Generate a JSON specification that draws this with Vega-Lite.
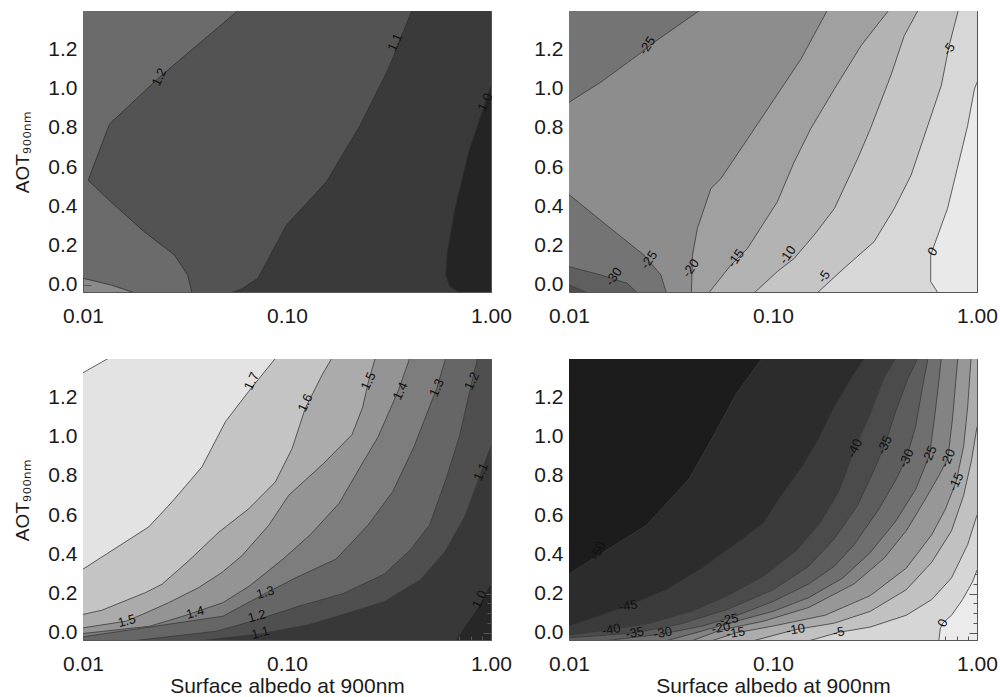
{
"$schema": "https://vega.github.io/schema/vega-lite/v6.json",
"padding": {"left": 13, "top": 10, "right": 5, "bottom": 0},
"background": "white",
"config": {
  "font": "Liberation Sans",
  "axis": {"grid": false, "domain": false, "zindex": 1, "labelFont": "Liberation Sans", "labelFontSize": 21, "labelColor": "#1a1a1a", "titleFont": "Liberation Sans", "titleFontWeight": "normal", "titleColor": "#1a1a1a", "tickColor": "#555555", "tickWidth": 1, "domainColor": "#555555"}
},
"datasets": {
"tl": [
{"v":1.3,"s":"m","x":0.0179,"y":-0.04},{"v":1.3,"s":"m","x":0.0137,"y":0.0},{"v":1.3,"s":"m","x":0.01,"y":0.034},{"v":1.3,"s":"","x":0.01,"y":1.4},
{"v":1.2,"s":"m","x":0.0342,"y":-0.04},{"v":1.2,"s":"m","x":0.0326,"y":0.05},{"v":1.2,"s":"m","x":0.0281,"y":0.152},{"v":1.2,"s":"m","x":0.02,"y":0.27},{"v":1.2,"s":"m","x":0.0137,"y":0.423},{"v":1.2,"s":"m","x":0.0106,"y":0.533},{"v":1.2,"s":"m","x":0.0135,"y":0.82},{"v":1.2,"s":"m","x":0.0237,"y":1.058},{"v":1.2,"s":"m","x":0.058,"y":1.4},
{"v":1.1,"s":"m","x":0.0534,"y":-0.04},{"v":1.1,"s":"m","x":0.06,"y":-0.02},{"v":1.1,"s":"m","x":0.072,"y":0.034},{"v":1.1,"s":"m","x":0.0994,"y":0.305},{"v":1.1,"s":"m","x":0.156,"y":0.525},{"v":1.1,"s":"m","x":0.228,"y":0.812},{"v":1.1,"s":"m","x":0.314,"y":1.1},{"v":1.1,"s":"m","x":0.41,"y":1.4},
{"v":1,"s":"m","x":0.71,"y":-0.04},{"v":1,"s":"m","x":0.63,"y":-0.01},{"v":1,"s":"m","x":0.6,"y":0.05},{"v":1,"s":"m","x":0.608,"y":0.152},{"v":1,"s":"m","x":0.666,"y":0.389},{"v":1,"s":"m","x":0.777,"y":0.677},{"v":1,"s":"m","x":0.904,"y":0.88},{"v":1,"s":"m","x":1.0,"y":1.015}
],
"tr": [
{"v":-35,"s":"m","x":0.0123,"y":-0.04},{"v":-35,"s":"m","x":0.01,"y":0.0},{"v":-35,"s":"","x":0.01,"y":1.4},
{"v":-30,"s":"m","x":0.0216,"y":-0.04},{"v":-30,"s":"m","x":0.0193,"y":0.008},{"v":-30,"s":"m","x":0.0143,"y":0.051},{"v":-30,"s":"m","x":0.01,"y":0.093},{"v":-30,"s":"","x":0.01,"y":1.4},
{"v":-25,"s":"m","x":0.03,"y":-0.04},{"v":-25,"s":"m","x":0.0282,"y":0.051},{"v":-25,"s":"m","x":0.0233,"y":0.152},{"v":-25,"s":"m","x":0.016,"y":0.288},{"v":-25,"s":"m","x":0.01,"y":0.46},{"v":-25,"s":"n","x":0.01,"y":0.93},{"v":-25,"s":"n","x":0.0143,"y":1.032},{"v":-25,"s":"n","x":0.0216,"y":1.168},{"v":-25,"s":"n","x":0.0261,"y":1.235},{"v":-25,"s":"n","x":0.044,"y":1.4},
{"v":-20,"s":"m","x":0.0398,"y":-0.04},{"v":-20,"s":"m","x":0.0403,"y":0.152},{"v":-20,"s":"m","x":0.0426,"y":0.288},{"v":-20,"s":"m","x":0.0496,"y":0.491},{"v":-20,"s":"m","x":0.0555,"y":0.541},{"v":-20,"s":"m","x":0.081,"y":0.795},{"v":-20,"s":"m","x":0.137,"y":1.15},{"v":-20,"s":"m","x":0.185,"y":1.4},
{"v":-15,"s":"m","x":0.0485,"y":-0.04},{"v":-15,"s":"m","x":0.062,"y":0.1},{"v":-15,"s":"m","x":0.075,"y":0.186},{"v":-15,"s":"m","x":0.105,"y":0.423},{"v":-15,"s":"m","x":0.127,"y":0.626},{"v":-15,"s":"m","x":0.153,"y":0.795},{"v":-15,"s":"m","x":0.2,"y":0.998},{"v":-15,"s":"m","x":0.27,"y":1.218},{"v":-15,"s":"m","x":0.37,"y":1.4},
{"v":-10,"s":"m","x":0.081,"y":-0.04},{"v":-10,"s":"m","x":0.105,"y":0.068},{"v":-10,"s":"m","x":0.127,"y":0.135},{"v":-10,"s":"m","x":0.159,"y":0.254},{"v":-10,"s":"m","x":0.2,"y":0.389},{"v":-10,"s":"m","x":0.26,"y":0.643},{"v":-10,"s":"m","x":0.3,"y":0.795},{"v":-10,"s":"m","x":0.378,"y":1.066},{"v":-10,"s":"m","x":0.44,"y":1.269},{"v":-10,"s":"m","x":0.515,"y":1.4},
{"v":-5,"s":"m","x":0.165,"y":-0.04},{"v":-5,"s":"m","x":0.223,"y":0.085},{"v":-5,"s":"m","x":0.313,"y":0.22},{"v":-5,"s":"m","x":0.393,"y":0.389},{"v":-5,"s":"m","x":0.475,"y":0.558},{"v":-5,"s":"m","x":0.574,"y":0.812},{"v":-5,"s":"m","x":0.668,"y":1.015},{"v":-5,"s":"m","x":0.73,"y":1.218},{"v":-5,"s":"m","x":0.81,"y":1.4},
{"v":0,"s":"m","x":0.643,"y":-0.04},{"v":0,"s":"m","x":0.593,"y":0.017},{"v":0,"s":"m","x":0.593,"y":0.152},{"v":0,"s":"m","x":0.643,"y":0.254},{"v":0,"s":"m","x":0.717,"y":0.389},{"v":0,"s":"m","x":0.8,"y":0.592},{"v":0,"s":"m","x":0.9,"y":0.812},{"v":0,"s":"m","x":0.972,"y":0.998},{"v":0,"s":"m","x":1.0,"y":1.032}
],
"bl": [
{"v":1,"s":"","x":0.01,"y":-0.04},{"v":1,"s":"m","x":0.667,"y":-0.04},{"v":1,"s":"m","x":0.87,"y":0.137},{"v":1,"s":"m","x":1.0,"y":0.256},
{"v":1.1,"s":"","x":0.01,"y":-0.04},{"v":1.1,"s":"m","x":0.0372,"y":-0.04},{"v":1.1,"s":"m","x":0.0762,"y":-0.003},{"v":1.1,"s":"m","x":0.129,"y":0.043},{"v":1.1,"s":"m","x":0.188,"y":0.094},{"v":1.1,"s":"m","x":0.3,"y":0.16},{"v":1.1,"s":"m","x":0.45,"y":0.27},{"v":1.1,"s":"m","x":0.6,"y":0.42},{"v":1.1,"s":"m","x":0.75,"y":0.6},{"v":1.1,"s":"m","x":0.894,"y":0.82},{"v":1.1,"s":"m","x":1.0,"y":0.95},
{"v":1.2,"s":"","x":0.01,"y":-0.04},{"v":1.2,"s":"m","x":0.0176,"y":-0.04},{"v":1.2,"s":"m","x":0.045,"y":0.0085},{"v":1.2,"s":"m","x":0.072,"y":0.068},{"v":1.2,"s":"m","x":0.115,"y":0.137},{"v":1.2,"s":"m","x":0.188,"y":0.2},{"v":1.2,"s":"m","x":0.3,"y":0.3},{"v":1.2,"s":"m","x":0.4,"y":0.42},{"v":1.2,"s":"m","x":0.5,"y":0.55},{"v":1.2,"s":"m","x":0.6,"y":0.78},{"v":1.2,"s":"m","x":0.7,"y":1.0},{"v":1.2,"s":"m","x":0.807,"y":1.282},{"v":1.2,"s":"m","x":0.86,"y":1.4},
{"v":1.3,"s":"m","x":0.01,"y":-0.02},{"v":1.3,"s":"m","x":0.0485,"y":0.085},{"v":1.3,"s":"m","x":0.0795,"y":0.205},{"v":1.3,"s":"m","x":0.111,"y":0.282},{"v":1.3,"s":"m","x":0.174,"y":0.376},{"v":1.3,"s":"m","x":0.25,"y":0.55},{"v":1.3,"s":"m","x":0.33,"y":0.72},{"v":1.3,"s":"m","x":0.42,"y":0.95},{"v":1.3,"s":"m","x":0.543,"y":1.248},{"v":1.3,"s":"m","x":0.6,"y":1.4},
{"v":1.4,"s":"m","x":0.01,"y":-0.003},{"v":1.4,"s":"m","x":0.0212,"y":0.034},{"v":1.4,"s":"m","x":0.0309,"y":0.085},{"v":1.4,"s":"m","x":0.0485,"y":0.154},{"v":1.4,"s":"m","x":0.0656,"y":0.24},{"v":1.4,"s":"m","x":0.0956,"y":0.376},{"v":1.4,"s":"m","x":0.13,"y":0.5},{"v":1.4,"s":"m","x":0.18,"y":0.66},{"v":1.4,"s":"m","x":0.23,"y":0.85},{"v":1.4,"s":"m","x":0.28,"y":1.0},{"v":1.4,"s":"m","x":0.35,"y":1.23},{"v":1.4,"s":"m","x":0.4,"y":1.4},
{"v":1.5,"s":"m","x":0.01,"y":0.026},{"v":1.5,"s":"m","x":0.0163,"y":0.06},{"v":1.5,"s":"m","x":0.0195,"y":0.094},{"v":1.5,"s":"m","x":0.0263,"y":0.154},{"v":1.5,"s":"m","x":0.0369,"y":0.231},{"v":1.5,"s":"m","x":0.048,"y":0.308},{"v":1.5,"s":"m","x":0.0601,"y":0.393},{"v":1.5,"s":"m","x":0.0812,"y":0.547},{"v":1.5,"s":"m","x":0.102,"y":0.701},{"v":1.5,"s":"m","x":0.15,"y":0.86},{"v":1.5,"s":"m","x":0.208,"y":1.009},{"v":1.5,"s":"m","x":0.235,"y":1.15},{"v":1.5,"s":"m","x":0.251,"y":1.282},{"v":1.5,"s":"m","x":0.271,"y":1.4},
{"v":1.6,"s":"m","x":0.01,"y":0.094},{"v":1.6,"s":"m","x":0.0124,"y":0.116},{"v":1.6,"s":"m","x":0.0202,"y":0.205},{"v":1.6,"s":"m","x":0.0244,"y":0.248},{"v":1.6,"s":"m","x":0.033,"y":0.368},{"v":1.6,"s":"m","x":0.0463,"y":0.513},{"v":1.6,"s":"m","x":0.0649,"y":0.632},{"v":1.6,"s":"m","x":0.0877,"y":0.769},{"v":1.6,"s":"m","x":0.106,"y":0.94},{"v":1.6,"s":"m","x":0.123,"y":1.145},{"v":1.6,"s":"m","x":0.149,"y":1.316},{"v":1.6,"s":"m","x":0.166,"y":1.4},
{"v":1.7,"s":"m","x":0.01,"y":0.325},{"v":1.7,"s":"m","x":0.021,"y":0.54},{"v":1.7,"s":"m","x":0.0273,"y":0.667},{"v":1.7,"s":"m","x":0.0383,"y":0.846},{"v":1.7,"s":"m","x":0.05,"y":1.077},{"v":1.7,"s":"m","x":0.065,"y":1.231},{"v":1.7,"s":"m","x":0.088,"y":1.4},
{"v":1.8,"s":"m","x":0.01,"y":1.325},{"v":1.8,"s":"m","x":0.0134,"y":1.4}
],
"br": [
{"v":0,"s":"","x":0.01,"y":-0.04},{"v":0,"s":"m","x":0.65,"y":-0.04},{"v":0,"s":"m","x":0.66,"y":0.02},{"v":0,"s":"m","x":0.68,"y":0.05},{"v":0,"s":"m","x":0.75,"y":0.09},{"v":0,"s":"m","x":0.85,"y":0.17},{"v":0,"s":"m","x":0.95,"y":0.26},{"v":0,"s":"m","x":1.0,"y":0.32},
{"v":-5,"s":"","x":0.01,"y":-0.04},{"v":-5,"s":"m","x":0.15,"y":-0.04},{"v":-5,"s":"m","x":0.21,"y":0.003},{"v":-5,"s":"m","x":0.3,"y":0.03},{"v":-5,"s":"m","x":0.45,"y":0.09},{"v":-5,"s":"m","x":0.6,"y":0.17},{"v":-5,"s":"m","x":0.75,"y":0.28},{"v":-5,"s":"m","x":0.9,"y":0.45},{"v":-5,"s":"m","x":1.0,"y":0.6},
{"v":-10,"s":"","x":0.01,"y":-0.04},{"v":-10,"s":"m","x":0.08,"y":-0.04},{"v":-10,"s":"m","x":0.129,"y":0.017},{"v":-10,"s":"m","x":0.2,"y":0.05},{"v":-10,"s":"m","x":0.3,"y":0.11},{"v":-10,"s":"m","x":0.45,"y":0.22},{"v":-10,"s":"m","x":0.6,"y":0.36},{"v":-10,"s":"m","x":0.75,"y":0.52},{"v":-10,"s":"m","x":0.86,"y":0.7},{"v":-10,"s":"m","x":0.94,"y":0.88},{"v":-10,"s":"m","x":1.0,"y":1.05},
{"v":-15,"s":"","x":0.01,"y":-0.04},{"v":-15,"s":"m","x":0.05,"y":-0.04},{"v":-15,"s":"m","x":0.0656,"y":0.0},{"v":-15,"s":"m","x":0.1,"y":0.035},{"v":-15,"s":"m","x":0.18,"y":0.09},{"v":-15,"s":"m","x":0.3,"y":0.19},{"v":-15,"s":"m","x":0.45,"y":0.33},{"v":-15,"s":"m","x":0.6,"y":0.5},{"v":-15,"s":"m","x":0.7,"y":0.63},{"v":-15,"s":"m","x":0.79,"y":0.769},{"v":-15,"s":"m","x":0.86,"y":0.95},{"v":-15,"s":"m","x":0.9,"y":1.15},{"v":-15,"s":"m","x":0.935,"y":1.4},
{"v":-20,"s":"","x":0.01,"y":-0.04},{"v":-20,"s":"m","x":0.04,"y":-0.04},{"v":-20,"s":"m","x":0.0555,"y":0.015},{"v":-20,"s":"m","x":0.09,"y":0.06},{"v":-20,"s":"m","x":0.15,"y":0.13},{"v":-20,"s":"m","x":0.25,"y":0.25},{"v":-20,"s":"m","x":0.35,"y":0.38},{"v":-20,"s":"m","x":0.45,"y":0.52},{"v":-20,"s":"m","x":0.55,"y":0.67},{"v":-20,"s":"m","x":0.65,"y":0.8},{"v":-20,"s":"m","x":0.72,"y":0.889},{"v":-20,"s":"m","x":0.76,"y":1.1},{"v":-20,"s":"m","x":0.805,"y":1.4},
{"v":-25,"s":"","x":0.01,"y":-0.04},{"v":-25,"s":"m","x":0.03,"y":-0.04},{"v":-25,"s":"m","x":0.045,"y":0.01},{"v":-25,"s":"m","x":0.061,"y":0.05},{"v":-25,"s":"m","x":0.1,"y":0.11},{"v":-25,"s":"m","x":0.15,"y":0.18},{"v":-25,"s":"m","x":0.22,"y":0.28},{"v":-25,"s":"m","x":0.3,"y":0.41},{"v":-25,"s":"m","x":0.4,"y":0.57},{"v":-25,"s":"m","x":0.5,"y":0.73},{"v":-25,"s":"m","x":0.585,"y":0.906},{"v":-25,"s":"m","x":0.62,"y":1.1},{"v":-25,"s":"m","x":0.645,"y":1.25},{"v":-25,"s":"m","x":0.668,"y":1.4},
{"v":-30,"s":"","x":0.01,"y":-0.04},{"v":-30,"s":"m","x":0.015,"y":-0.04},{"v":-30,"s":"m","x":0.0288,"y":-0.005},{"v":-30,"s":"m","x":0.045,"y":0.035},{"v":-30,"s":"m","x":0.065,"y":0.085},{"v":-30,"s":"m","x":0.1,"y":0.16},{"v":-30,"s":"m","x":0.15,"y":0.25},{"v":-30,"s":"m","x":0.2,"y":0.34},{"v":-30,"s":"m","x":0.25,"y":0.45},{"v":-30,"s":"m","x":0.33,"y":0.63},{"v":-30,"s":"m","x":0.4,"y":0.78},{"v":-30,"s":"m","x":0.451,"y":0.889},{"v":-30,"s":"m","x":0.5,"y":1.05},{"v":-30,"s":"m","x":0.54,"y":1.25},{"v":-30,"s":"m","x":0.575,"y":1.4},
{"v":-35,"s":"m","x":0.01,"y":-0.025},{"v":-35,"s":"m","x":0.021,"y":0.0},{"v":-35,"s":"m","x":0.035,"y":0.045},{"v":-35,"s":"m","x":0.06,"y":0.12},{"v":-35,"s":"m","x":0.1,"y":0.22},{"v":-35,"s":"m","x":0.15,"y":0.34},{"v":-35,"s":"m","x":0.2,"y":0.48},{"v":-35,"s":"m","x":0.26,"y":0.65},{"v":-35,"s":"m","x":0.31,"y":0.82},{"v":-35,"s":"m","x":0.353,"y":0.957},{"v":-35,"s":"m","x":0.4,"y":1.13},{"v":-35,"s":"m","x":0.46,"y":1.3},{"v":-35,"s":"m","x":0.514,"y":1.4},
{"v":-40,"s":"m","x":0.01,"y":-0.01},{"v":-40,"s":"m","x":0.0161,"y":0.017},{"v":-40,"s":"m","x":0.025,"y":0.05},{"v":-40,"s":"m","x":0.04,"y":0.11},{"v":-40,"s":"m","x":0.06,"y":0.19},{"v":-40,"s":"m","x":0.09,"y":0.29},{"v":-40,"s":"m","x":0.13,"y":0.42},{"v":-40,"s":"m","x":0.17,"y":0.56},{"v":-40,"s":"m","x":0.21,"y":0.72},{"v":-40,"s":"m","x":0.252,"y":0.94},{"v":-40,"s":"m","x":0.3,"y":1.12},{"v":-40,"s":"m","x":0.35,"y":1.3},{"v":-40,"s":"m","x":0.4,"y":1.4},
{"v":-45,"s":"m","x":0.01,"y":0.034},{"v":-45,"s":"m","x":0.0195,"y":0.137},{"v":-45,"s":"m","x":0.03,"y":0.22},{"v":-45,"s":"m","x":0.045,"y":0.33},{"v":-45,"s":"m","x":0.065,"y":0.45},{"v":-45,"s":"m","x":0.09,"y":0.56},{"v":-45,"s":"m","x":0.11,"y":0.7},{"v":-45,"s":"m","x":0.14,"y":0.85},{"v":-45,"s":"m","x":0.17,"y":1.0},{"v":-45,"s":"m","x":0.2,"y":1.15},{"v":-45,"s":"m","x":0.25,"y":1.32},{"v":-45,"s":"m","x":0.283,"y":1.4},
{"v":-50,"s":"m","x":0.01,"y":0.3},{"v":-50,"s":"m","x":0.0147,"y":0.41},{"v":-50,"s":"m","x":0.0239,"y":0.547},{"v":-50,"s":"m","x":0.0389,"y":0.786},{"v":-50,"s":"m","x":0.0525,"y":1.026},{"v":-50,"s":"m","x":0.0657,"y":1.214},{"v":-50,"s":"m","x":0.0886,"y":1.4}
],
"lab": [
{"p":"tl","t":"1.2","x":0.0237,"y":1.058},{"p":"tl","t":"1.1","x":0.339,"y":1.235},{"p":"tl","t":"1.0","x":0.937,"y":0.93},
{"p":"tr","t":"-25","x":0.0242,"y":1.218},{"p":"tr","t":"-25","x":0.0247,"y":0.127},{"p":"tr","t":"-30","x":0.0166,"y":0.042},{"p":"tr","t":"-20","x":0.0396,"y":0.085},{"p":"tr","t":"-15","x":0.0658,"y":0.135},{"p":"tr","t":"-10","x":0.118,"y":0.152},{"p":"tr","t":"-5","x":0.178,"y":0.042},{"p":"tr","t":"-5","x":0.73,"y":1.2},{"p":"tr","t":"0","x":0.607,"y":0.169},
{"p":"bl","t":"1.7","x":0.0672,"y":1.282},{"p":"bl","t":"1.6","x":0.123,"y":1.171},{"p":"bl","t":"1.5","x":0.251,"y":1.282},{"p":"bl","t":"1.4","x":0.36,"y":1.231},{"p":"bl","t":"1.3","x":0.543,"y":1.248},{"p":"bl","t":"1.2","x":0.807,"y":1.282},{"p":"bl","t":"1.1","x":0.894,"y":0.82},{"p":"bl","t":"1.0","x":0.88,"y":0.171},{"p":"bl","t":"1.5","x":0.0164,"y":0.06},{"p":"bl","t":"1.4","x":0.0355,"y":0.103},{"p":"bl","t":"1.3","x":0.0783,"y":0.205},{"p":"bl","t":"1.2","x":0.0713,"y":0.085},{"p":"bl","t":"1.1","x":0.074,"y":0.0},
{"p":"br","t":"-50","x":0.0139,"y":0.419},{"p":"br","t":"-45","x":0.0195,"y":0.137},{"p":"br","t":"-40","x":0.0161,"y":0.017},{"p":"br","t":"-35","x":0.021,"y":0.0},{"p":"br","t":"-30","x":0.0288,"y":0.0},{"p":"br","t":"-25","x":0.061,"y":0.068},{"p":"br","t":"-20","x":0.0555,"y":0.026},{"p":"br","t":"-15","x":0.0656,"y":0.0},{"p":"br","t":"-10","x":0.129,"y":0.017},{"p":"br","t":"-5","x":0.21,"y":0.003},{"p":"br","t":"0","x":0.68,"y":0.051},{"p":"br","t":"-40","x":0.252,"y":0.94},{"p":"br","t":"-35","x":0.353,"y":0.957},{"p":"br","t":"-30","x":0.451,"y":0.889},{"p":"br","t":"-25","x":0.585,"y":0.906},{"p":"br","t":"-20","x":0.72,"y":0.889},{"p":"br","t":"-15","x":0.79,"y":0.769}
]
},
"columns": 2,
"spacing": {"row": 67, "column": 78},
"bounds": "flush",
"resolve": {"scale": {"x": "independent", "y": "independent", "color": "independent"}, "axis": {"x": "independent", "y": "independent"}},
"concat": [
{
"width": 408, "height": 281,
"view": {"fill": "#8a8a8a", "stroke": null},
"resolve": {"axis": {"x": "independent", "y": "independent"}},
"layer": [
 {"data": {"name": "tl"}, "mark": {"type": "area", "orient": "horizontal", "clip": true},
  "encoding": {
   "y": {"field": "y", "type": "quantitative", "scale": {"domain": [-0.036, 1.395], "nice": false, "zero": false}, "axis": {"orient": "left", "values": [0,0.2,0.4,0.6,0.8,1,1.2], "format": ".1f", "ticks": false, "domain": true, "labelPadding": 6, "labelOverlap": false, "title": "AOT₉₀₀ₙₘ", "titleFontSize": 19, "titlePadding": 15}},
   "x": {"field": "x", "type": "quantitative", "stack": null, "scale": {"type": "log", "domain": [0.01, 1], "nice": false}, "axis": {"orient": "bottom", "values": [0.01,0.1,1], "format": ".2f", "ticks": false, "domain": true, "labelPadding": 13, "labelFlush": false, "labelOverlap": false, "title": null}},
   "x2": {"datum": 1},
   "color": {"field": "v", "type": "ordinal", "scale": {"domain": [1.3,1.2,1.1,1], "range": ["#6b6b6b","#535353","#3a3a3a","#242424"]}, "legend": null}}},
 {"data": {"name": "tl"}, "transform": [{"filter": "datum.s != ''"}], "mark": {"type": "line", "stroke": "#2e2e2e", "strokeWidth": 0.8, "clip": true},
  "encoding": {
   "x": {"field": "x", "type": "quantitative", "scale": {"type": "log", "domain": [0.01, 1], "nice": false}, "axis": {"orient": "top", "values": [0.01,0.1,1], "labels": false, "domain": true, "tickSize": -8, "title": null}},
   "y": {"field": "y", "type": "quantitative", "scale": {"domain": [-0.036, 1.395], "nice": false, "zero": false}, "axis": {"orient": "right", "values": [0,0.2,0.4,0.6,0.8,1,1.2], "labels": false, "domain": true, "tickSize": -8, "title": null}},
   "detail": [{"field": "v", "type": "nominal"}, {"field": "s", "type": "nominal"}],
   "order": {"field": "y", "type": "quantitative"}}},
 {"data": {"name": "lab"}, "transform": [{"filter": "datum.p == 'tl'"}], "mark": {"type": "text", "fontSize": 13, "color": "#111111", "angle": 295},
  "encoding": {
   "x": {"field": "x", "type": "quantitative", "scale": {"type": "log", "domain": [0.01, 1], "nice": false}, "axis": {"orient": "bottom", "values": [0.01,0.1,1], "labels": false, "tickSize": -8, "title": null}},
   "y": {"field": "y", "type": "quantitative", "scale": {"domain": [-0.036, 1.395], "nice": false, "zero": false}, "axis": {"orient": "left", "values": [0,0.2,0.4,0.6,0.8,1,1.2], "labels": false, "tickSize": -8, "title": null}},
   "text": {"field": "t", "type": "nominal"}}},
 {"data": {"name": "lab"}, "transform": [{"filter": "datum.p == 'tl'"}], "mark": {"type": "point", "opacity": 0},
  "encoding": {
   "x": {"field": "x", "type": "quantitative", "scale": {"type": "log", "domain": [0.01, 1], "nice": false}, "axis": {"orient": "top", "values": [0.02,0.03,0.04,0.05,0.06,0.07,0.08,0.09,0.2,0.3,0.4,0.5,0.6,0.7,0.8,0.9], "labels": false, "tickSize": -4, "title": null}},
   "y": {"field": "y", "type": "quantitative", "scale": {"domain": [-0.036, 1.395], "nice": false, "zero": false}, "axis": {"orient": "right", "values": [0.05,0.1,0.15,0.25,0.3,0.35,0.45,0.5,0.55,0.65,0.7,0.75,0.85,0.9,0.95,1.05,1.1,1.15,1.25,1.3,1.35], "labels": false, "tickSize": -4, "title": null}}}},
 {"data": {"name": "lab"}, "transform": [{"filter": "datum.p == 'tl'"}], "mark": {"type": "point", "opacity": 0},
  "encoding": {
   "x": {"field": "x", "type": "quantitative", "scale": {"type": "log", "domain": [0.01, 1], "nice": false}, "axis": {"orient": "bottom", "values": [0.02,0.03,0.04,0.05,0.06,0.07,0.08,0.09,0.2,0.3,0.4,0.5,0.6,0.7,0.8,0.9], "labels": false, "tickSize": -4, "title": null}},
   "y": {"field": "y", "type": "quantitative", "scale": {"domain": [-0.036, 1.395], "nice": false, "zero": false}, "axis": {"orient": "left", "values": [0.05,0.1,0.15,0.25,0.3,0.35,0.45,0.5,0.55,0.65,0.7,0.75,0.85,0.9,0.95,1.05,1.1,1.15,1.25,1.3,1.35], "labels": false, "tickSize": -4, "title": null}}}}
]
},
{
"width": 408, "height": 281,
"view": {"fill": "#4c4c4c", "stroke": null},
"resolve": {"axis": {"x": "independent", "y": "independent"}},
"layer": [
 {"data": {"name": "tr"}, "mark": {"type": "area", "orient": "horizontal", "clip": true},
  "encoding": {
   "y": {"field": "y", "type": "quantitative", "scale": {"domain": [-0.036, 1.395], "nice": false, "zero": false}, "axis": {"orient": "left", "values": [0,0.2,0.4,0.6,0.8,1,1.2], "format": ".1f", "ticks": false, "domain": true, "labelPadding": 6, "labelOverlap": false, "title": null}},
   "x": {"field": "x", "type": "quantitative", "stack": null, "scale": {"type": "log", "domain": [0.01, 1], "nice": false}, "axis": {"orient": "bottom", "values": [0.01,0.1,1], "format": ".2f", "ticks": false, "domain": true, "labelPadding": 13, "labelFlush": false, "labelOverlap": false, "title": null}},
   "x2": {"datum": 1},
   "color": {"field": "v", "type": "ordinal", "scale": {"domain": [-35,-30,-25,-20,-15,-10,-5,0], "range": ["#5f5f5f","#747474","#8d8d8d","#a0a0a0","#b3b3b3","#c5c5c5","#d7d7d7","#e9e9e9"]}, "legend": null}}},
 {"data": {"name": "tr"}, "transform": [{"filter": "datum.s != ''"}], "mark": {"type": "line", "stroke": "#3a3a3a", "strokeWidth": 0.8, "clip": true},
  "encoding": {
   "x": {"field": "x", "type": "quantitative", "scale": {"type": "log", "domain": [0.01, 1], "nice": false}, "axis": {"orient": "top", "values": [0.01,0.1,1], "labels": false, "domain": true, "tickSize": -8, "title": null}},
   "y": {"field": "y", "type": "quantitative", "scale": {"domain": [-0.036, 1.395], "nice": false, "zero": false}, "axis": {"orient": "right", "values": [0,0.2,0.4,0.6,0.8,1,1.2], "labels": false, "domain": true, "tickSize": -8, "title": null}},
   "detail": [{"field": "v", "type": "nominal"}, {"field": "s", "type": "nominal"}],
   "order": {"field": "y", "type": "quantitative"}}},
 {"data": {"name": "lab"}, "transform": [{"filter": "datum.p == 'tr'"}], "mark": {"type": "text", "fontSize": 13, "color": "#111111", "angle": 305},
  "encoding": {
   "x": {"field": "x", "type": "quantitative", "scale": {"type": "log", "domain": [0.01, 1], "nice": false}, "axis": {"orient": "bottom", "values": [0.01,0.1,1], "labels": false, "tickSize": -8, "title": null}},
   "y": {"field": "y", "type": "quantitative", "scale": {"domain": [-0.036, 1.395], "nice": false, "zero": false}, "axis": {"orient": "left", "values": [0,0.2,0.4,0.6,0.8,1,1.2], "labels": false, "tickSize": -8, "title": null}},
   "text": {"field": "t", "type": "nominal"}}},
 {"data": {"name": "lab"}, "transform": [{"filter": "datum.p == 'tr'"}], "mark": {"type": "point", "opacity": 0},
  "encoding": {
   "x": {"field": "x", "type": "quantitative", "scale": {"type": "log", "domain": [0.01, 1], "nice": false}, "axis": {"orient": "top", "values": [0.02,0.03,0.04,0.05,0.06,0.07,0.08,0.09,0.2,0.3,0.4,0.5,0.6,0.7,0.8,0.9], "labels": false, "tickSize": -4, "title": null}},
   "y": {"field": "y", "type": "quantitative", "scale": {"domain": [-0.036, 1.395], "nice": false, "zero": false}, "axis": {"orient": "right", "values": [0.05,0.1,0.15,0.25,0.3,0.35,0.45,0.5,0.55,0.65,0.7,0.75,0.85,0.9,0.95,1.05,1.1,1.15,1.25,1.3,1.35], "labels": false, "tickSize": -4, "title": null}}}},
 {"data": {"name": "lab"}, "transform": [{"filter": "datum.p == 'tr'"}], "mark": {"type": "point", "opacity": 0},
  "encoding": {
   "x": {"field": "x", "type": "quantitative", "scale": {"type": "log", "domain": [0.01, 1], "nice": false}, "axis": {"orient": "bottom", "values": [0.02,0.03,0.04,0.05,0.06,0.07,0.08,0.09,0.2,0.3,0.4,0.5,0.6,0.7,0.8,0.9], "labels": false, "tickSize": -4, "title": null}},
   "y": {"field": "y", "type": "quantitative", "scale": {"domain": [-0.036, 1.395], "nice": false, "zero": false}, "axis": {"orient": "left", "values": [0.05,0.1,0.15,0.25,0.3,0.35,0.45,0.5,0.55,0.65,0.7,0.75,0.85,0.9,0.95,1.05,1.1,1.15,1.25,1.3,1.35], "labels": false, "tickSize": -4, "title": null}}}}
]
},
{
"width": 408, "height": 281,
"view": {"fill": "#272727", "stroke": null},
"resolve": {"axis": {"x": "independent", "y": "independent"}},
"layer": [
 {"data": {"name": "bl"}, "mark": {"type": "area", "orient": "vertical", "clip": true},
  "encoding": {
   "x": {"field": "x", "type": "quantitative", "scale": {"type": "log", "domain": [0.01, 1], "nice": false}, "axis": {"orient": "bottom", "values": [0.01,0.1,1], "format": ".2f", "ticks": false, "domain": true, "labelPadding": 13, "labelFlush": false, "labelOverlap": false, "title": "Surface albedo at 900nm", "titleFontSize": 21, "titlePadding": 1}},
   "y": {"field": "y", "type": "quantitative", "stack": null, "scale": {"domain": [-0.036, 1.395], "nice": false, "zero": false}, "axis": {"orient": "left", "values": [0,0.2,0.4,0.6,0.8,1,1.2], "format": ".1f", "ticks": false, "domain": true, "labelPadding": 6, "labelOverlap": false, "title": "AOT₉₀₀ₙₘ", "titleFontSize": 19, "titlePadding": 15}},
   "y2": {"datum": 1.4},
   "color": {"field": "v", "type": "ordinal", "scale": {"domain": [1,1.1,1.2,1.3,1.4,1.5,1.6,1.7,1.8], "range": ["#383838","#4f4f4f","#666666","#7d7d7d","#949494","#ababab","#c4c4c4","#e3e3e3","#ffffff"]}, "legend": null}}},
 {"data": {"name": "bl"}, "transform": [{"filter": "datum.s != ''"}], "mark": {"type": "line", "stroke": "#3a3a3a", "strokeWidth": 0.8, "clip": true},
  "encoding": {
   "x": {"field": "x", "type": "quantitative", "scale": {"type": "log", "domain": [0.01, 1], "nice": false}, "axis": {"orient": "top", "values": [0.01,0.1,1], "labels": false, "domain": true, "tickSize": -8, "title": null}},
   "y": {"field": "y", "type": "quantitative", "scale": {"domain": [-0.036, 1.395], "nice": false, "zero": false}, "axis": {"orient": "right", "values": [0,0.2,0.4,0.6,0.8,1,1.2], "labels": false, "domain": true, "tickSize": -8, "title": null}},
   "detail": [{"field": "v", "type": "nominal"}, {"field": "s", "type": "nominal"}],
   "order": {"field": "x", "type": "quantitative"}}},
 {"data": {"name": "lab"}, "transform": [{"filter": "datum.p == 'bl' && (datum.y >= 0.3 || datum.x > 0.5)"}], "mark": {"type": "text", "fontSize": 13, "color": "#111111", "angle": 295},
  "encoding": {
   "x": {"field": "x", "type": "quantitative", "scale": {"type": "log", "domain": [0.01, 1], "nice": false}, "axis": {"orient": "bottom", "values": [0.01,0.1,1], "labels": false, "tickSize": -8, "title": null}},
   "y": {"field": "y", "type": "quantitative", "scale": {"domain": [-0.036, 1.395], "nice": false, "zero": false}, "axis": {"orient": "left", "values": [0,0.2,0.4,0.6,0.8,1,1.2], "labels": false, "tickSize": -8, "title": null}},
   "text": {"field": "t", "type": "nominal"}}},
 {"data": {"name": "lab"}, "transform": [{"filter": "datum.p == 'bl' && datum.y < 0.3 && datum.x <= 0.5"}], "mark": {"type": "text", "fontSize": 13, "color": "#111111", "angle": 345},
  "encoding": {
   "x": {"field": "x", "type": "quantitative", "scale": {"type": "log", "domain": [0.01, 1], "nice": false}, "axis": {"orient": "top", "values": [0.02,0.03,0.04,0.05,0.06,0.07,0.08,0.09,0.2,0.3,0.4,0.5,0.6,0.7,0.8,0.9], "labels": false, "tickSize": -4, "title": null}},
   "y": {"field": "y", "type": "quantitative", "scale": {"domain": [-0.036, 1.395], "nice": false, "zero": false}, "axis": {"orient": "right", "values": [0.05,0.1,0.15,0.25,0.3,0.35,0.45,0.5,0.55,0.65,0.7,0.75,0.85,0.9,0.95,1.05,1.1,1.15,1.25,1.3,1.35], "labels": false, "tickSize": -4, "title": null}},
   "text": {"field": "t", "type": "nominal"}}},
 {"data": {"name": "lab"}, "transform": [{"filter": "datum.p == 'bl'"}], "mark": {"type": "point", "opacity": 0},
  "encoding": {
   "x": {"field": "x", "type": "quantitative", "scale": {"type": "log", "domain": [0.01, 1], "nice": false}, "axis": {"orient": "bottom", "values": [0.02,0.03,0.04,0.05,0.06,0.07,0.08,0.09,0.2,0.3,0.4,0.5,0.6,0.7,0.8,0.9], "labels": false, "tickSize": -4, "title": null}},
   "y": {"field": "y", "type": "quantitative", "scale": {"domain": [-0.036, 1.395], "nice": false, "zero": false}, "axis": {"orient": "left", "values": [0.05,0.1,0.15,0.25,0.3,0.35,0.45,0.5,0.55,0.65,0.7,0.75,0.85,0.9,0.95,1.05,1.1,1.15,1.25,1.3,1.35], "labels": false, "tickSize": -4, "title": null}}}}
]
},
{
"width": 408, "height": 281,
"view": {"fill": "#ebebeb", "stroke": null},
"resolve": {"axis": {"x": "independent", "y": "independent"}},
"layer": [
 {"data": {"name": "br"}, "mark": {"type": "area", "orient": "vertical", "clip": true},
  "encoding": {
   "x": {"field": "x", "type": "quantitative", "scale": {"type": "log", "domain": [0.01, 1], "nice": false}, "axis": {"orient": "bottom", "values": [0.01,0.1,1], "format": ".2f", "ticks": false, "domain": true, "labelPadding": 13, "labelFlush": false, "labelOverlap": false, "title": "Surface albedo at 900nm", "titleFontSize": 21, "titlePadding": 1}},
   "y": {"field": "y", "type": "quantitative", "stack": null, "scale": {"domain": [-0.036, 1.395], "nice": false, "zero": false}, "axis": {"orient": "left", "values": [0,0.2,0.4,0.6,0.8,1,1.2], "format": ".1f", "ticks": false, "domain": true, "labelPadding": 6, "labelOverlap": false, "title": null}},
   "y2": {"datum": 1.4},
   "color": {"field": "v", "type": "ordinal", "scale": {"domain": [0,-5,-10,-15,-20,-25,-30,-35,-40,-45,-50], "range": ["#d6d6d6","#c1c1c1","#acacac","#979797","#838383","#6f6f6f","#5d5d5d","#4b4b4b","#3b3b3b","#2c2c2c","#1c1c1c"]}, "legend": null}}},
 {"data": {"name": "br"}, "transform": [{"filter": "datum.s != ''"}], "mark": {"type": "line", "stroke": "#3a3a3a", "strokeWidth": 0.8, "clip": true},
  "encoding": {
   "x": {"field": "x", "type": "quantitative", "scale": {"type": "log", "domain": [0.01, 1], "nice": false}, "axis": {"orient": "top", "values": [0.01,0.1,1], "labels": false, "domain": true, "tickSize": -8, "title": null}},
   "y": {"field": "y", "type": "quantitative", "scale": {"domain": [-0.036, 1.395], "nice": false, "zero": false}, "axis": {"orient": "right", "values": [0,0.2,0.4,0.6,0.8,1,1.2], "labels": false, "domain": true, "tickSize": -8, "title": null}},
   "detail": [{"field": "v", "type": "nominal"}, {"field": "s", "type": "nominal"}],
   "order": {"field": "x", "type": "quantitative"}}},
 {"data": {"name": "lab"}, "transform": [{"filter": "datum.p == 'br' && (datum.y >= 0.3 || datum.x > 0.5)"}], "mark": {"type": "text", "fontSize": 13, "color": "#111111", "angle": 295},
  "encoding": {
   "x": {"field": "x", "type": "quantitative", "scale": {"type": "log", "domain": [0.01, 1], "nice": false}, "axis": {"orient": "bottom", "values": [0.01,0.1,1], "labels": false, "tickSize": -8, "title": null}},
   "y": {"field": "y", "type": "quantitative", "scale": {"domain": [-0.036, 1.395], "nice": false, "zero": false}, "axis": {"orient": "left", "values": [0,0.2,0.4,0.6,0.8,1,1.2], "labels": false, "tickSize": -8, "title": null}},
   "text": {"field": "t", "type": "nominal"}}},
 {"data": {"name": "lab"}, "transform": [{"filter": "datum.p == 'br' && datum.y < 0.3 && datum.x <= 0.5"}], "mark": {"type": "text", "fontSize": 13, "color": "#111111", "angle": 350},
  "encoding": {
   "x": {"field": "x", "type": "quantitative", "scale": {"type": "log", "domain": [0.01, 1], "nice": false}, "axis": {"orient": "top", "values": [0.02,0.03,0.04,0.05,0.06,0.07,0.08,0.09,0.2,0.3,0.4,0.5,0.6,0.7,0.8,0.9], "labels": false, "tickSize": -4, "title": null}},
   "y": {"field": "y", "type": "quantitative", "scale": {"domain": [-0.036, 1.395], "nice": false, "zero": false}, "axis": {"orient": "right", "values": [0.05,0.1,0.15,0.25,0.3,0.35,0.45,0.5,0.55,0.65,0.7,0.75,0.85,0.9,0.95,1.05,1.1,1.15,1.25,1.3,1.35], "labels": false, "tickSize": -4, "title": null}},
   "text": {"field": "t", "type": "nominal"}}},
 {"data": {"name": "lab"}, "transform": [{"filter": "datum.p == 'br'"}], "mark": {"type": "point", "opacity": 0},
  "encoding": {
   "x": {"field": "x", "type": "quantitative", "scale": {"type": "log", "domain": [0.01, 1], "nice": false}, "axis": {"orient": "bottom", "values": [0.02,0.03,0.04,0.05,0.06,0.07,0.08,0.09,0.2,0.3,0.4,0.5,0.6,0.7,0.8,0.9], "labels": false, "tickSize": -4, "title": null}},
   "y": {"field": "y", "type": "quantitative", "scale": {"domain": [-0.036, 1.395], "nice": false, "zero": false}, "axis": {"orient": "left", "values": [0.05,0.1,0.15,0.25,0.3,0.35,0.45,0.5,0.55,0.65,0.7,0.75,0.85,0.9,0.95,1.05,1.1,1.15,1.25,1.3,1.35], "labels": false, "tickSize": -4, "title": null}}}}
]
}
]
}
